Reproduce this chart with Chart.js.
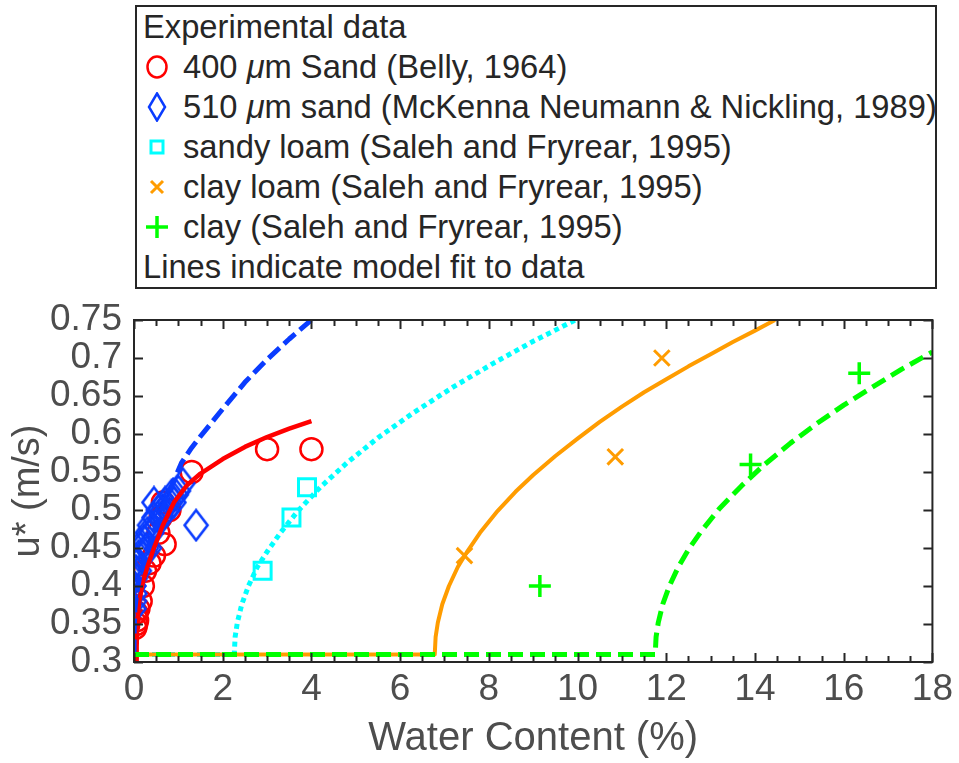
<!DOCTYPE html>
<html>
<head>
<meta charset="utf-8">
<title>Threshold friction velocity vs water content</title>
<script src="https://cdn.jsdelivr.net/npm/chart.js@4.4.0/dist/chart.umd.min.js"></script>
<style>
  body { margin: 0; background: #fff; }
  #wrap { position: absolute; left: 0; top: 0; width: 959px; height: 763px; }
  #legend {
    position: absolute; left: 135px; top: 5px; width: 798px; height: 280px;
    border: 2px solid #262626; background: #fff;
    font-family: 'Liberation Sans', Arial, sans-serif; font-size: 32.7px; color: #262626;
  }
  .row { position: relative; height: 40px; line-height: 40px; white-space: nowrap; }
  .row svg { position: absolute; left: 7px; top: 5px; }
  .row span { position: absolute; left: 46px; top: 0; }
  .row.plain span { left: 6px; }
</style>
</head>
<body>
<div id="wrap"><canvas id="chart"></canvas></div>
<div id="legend"></div>
<script>
// --- data ---

// 400 um sand (Belly, 1964)
const bellyX = [0.03, 0.05, 0.07, 0.05, 0.1, 0.15, 0.2, 0.25, 0.35, 0.45, 0.55, 0.69, 0.6, 0.65, 0.8, 1.3, 3.0, 4.0];
const bellyY = [0.345, 0.35, 0.355, 0.365, 0.37, 0.38, 0.40, 0.42, 0.43, 0.44, 0.47, 0.455, 0.49, 0.51, 0.50, 0.55, 0.58, 0.58];

// 510 um sand (McKenna Neumann & Nickling, 1989)
const mckX = [0.0, 0.01, 0.0, 0.02, 0.03, 0.05, 0.02, 0.08, 0.1, 0.12, 0.15, 0.2, 0.22, 0.28, 0.3, 0.35, 0.4, 0.45, 0.5, 0.55, 0.6, 0.65, 0.7, 0.75, 0.8, 0.85, 0.9, 0.95, 1.0, 1.1, 0.45, 0.35, 1.4];
const mckY = [0.37, 0.38, 0.40, 0.39, 0.41, 0.42, 0.43, 0.43, 0.44, 0.42, 0.45, 0.44, 0.46, 0.45, 0.47, 0.48, 0.47, 0.49, 0.48, 0.50, 0.49, 0.50, 0.51, 0.50, 0.51, 0.52, 0.51, 0.52, 0.525, 0.535, 0.51, 0.45, 0.48];

// sandy loam, clay loam, clay (Saleh and Fryrear, 1995)
const sandyLoamX = [2.9, 3.55, 3.9];
const sandyLoamY = [0.42, 0.49, 0.53];
const clayLoamX = [7.45, 10.85, 11.9];
const clayLoamY = [0.44, 0.57, 0.70];
const clayX = [9.15, 13.9, 16.35];
const clayY = [0.40, 0.56, 0.68];

// model fits (lines)
const bellyFitX = [0, 0.055, 0.06, 0.07, 0.09, 0.12, 0.2, 0.3, 0.45, 0.65, 0.9, 1.2, 1.5, 2.0, 2.5, 3.0, 3.5, 4.0];
const bellyFitY = [0.29, 0.29, 0.32, 0.345, 0.365, 0.38, 0.405, 0.425, 0.45, 0.48, 0.51, 0.533, 0.548, 0.567, 0.583, 0.596, 0.607, 0.617];
const mckFitX = [0, 0.005, 0.02, 0.06, 0.12, 0.25, 0.4, 0.6, 0.8, 1.07, 1.3, 1.5, 2.0, 2.5, 3.0, 3.5, 4.0];
const mckFitY = [0.31, 0.34, 0.37, 0.39, 0.41, 0.44, 0.465, 0.495, 0.525, 0.562, 0.582, 0.597, 0.633, 0.668, 0.698, 0.725, 0.75];
const sandyLoamFitX = [0, 2.26, 2.28, 2.33, 2.43, 2.58, 2.78, 3.0, 3.3, 3.7, 4.2, 4.8, 5.5, 6.3, 7.2, 8.1, 9.0, 9.95];
const sandyLoamFitY = [0.31, 0.31, 0.333, 0.352, 0.376, 0.40, 0.425, 0.445, 0.47, 0.499, 0.53, 0.562, 0.595, 0.628, 0.662, 0.693, 0.722, 0.75];
const clayLoamFitX = [0, 6.78, 6.8, 6.85, 6.95, 7.1, 7.3, 7.52, 7.8, 8.2, 8.6, 9.0, 9.5, 10.0, 10.5, 11.0, 11.5, 12.0, 12.5, 13.0, 13.5, 14.0, 14.45];
const clayLoamFitY = [0.31, 0.31, 0.333, 0.352, 0.376, 0.40, 0.425, 0.446, 0.47, 0.499, 0.524, 0.546, 0.571, 0.594, 0.616, 0.636, 0.655, 0.672, 0.689, 0.705, 0.721, 0.736, 0.75];
const clayFitX = [0, 11.75, 11.77, 11.82, 11.92, 12.07, 12.27, 12.5, 12.8, 13.2, 13.7, 14.2, 14.8, 15.4, 16.0, 16.6, 17.3, 18];
const clayFitY = [0.31, 0.31, 0.333, 0.352, 0.376, 0.40, 0.425, 0.448, 0.473, 0.502, 0.532, 0.559, 0.588, 0.614, 0.638, 0.66, 0.685, 0.708];

// axes
const xTicks = [0, 2, 4, 6, 8, 10, 12, 14, 16, 18];
const xMinorTicks = Array.from({ length: 37 }, (_, i) => i * 0.5);
const yTicks = [0.3, 0.35, 0.4, 0.45, 0.5, 0.55, 0.6, 0.65, 0.7, 0.75];

const legendTitle = 'Experimental data';
const legendFoot = 'Lines indicate model fit to data';
const seriesNames = [
  '400 <i>&mu;</i>m Sand (Belly, 1964)',
  '510 <i>&mu;</i>m sand (McKenna Neumann &amp; Nickling, 1989)',
  'sandy loam (Saleh and Fryrear, 1995)',
  'clay loam (Saleh and Fryrear, 1995)',
  'clay (Saleh and Fryrear, 1995)'
];

const RED = '#ff0000';
const BLUE = '#0a3cff';
const CYAN = '#00ffff';
const ORANGE = '#ff9c00';
const GREEN = '#00ff00';
const AXIS = '#262626';
const FONT = "'Liberation Sans', Arial, sans-serif";

function pts(xs, ys) {
  return xs.map((v, i) => ({ x: v, y: ys[i] }));
}

// matlab style diamond, a bit taller than wide
function diamondImage() {
  const c = document.createElement('canvas');
  c.width = 28; c.height = 34;
  const g = c.getContext('2d');
  g.strokeStyle = BLUE;
  g.lineWidth = 2.6;
  g.beginPath();
  g.moveTo(14, 2); g.lineTo(25.5, 17); g.lineTo(14, 32); g.lineTo(2.5, 17);
  g.closePath();
  g.stroke();
  return c;
}

function marker(data, style, color, radius, order, extra) {
  return Object.assign({
    type: 'scatter', data: data, pointStyle: style, pointRadius: radius,
    pointBorderColor: color, pointBackgroundColor: 'rgba(0,0,0,0)',
    pointBorderWidth: 3, showLine: false, order: order
  }, extra || {});
}

function fitLine(data, color, width, dash, order) {
  return {
    type: 'line', data: data, borderColor: color, borderWidth: width,
    borderDash: dash, pointRadius: 0, tension: 0, fill: false, order: order,
    borderCapStyle: 'butt', borderJoinStyle: 'round'
  };
}

const datasets = [
  fitLine(pts(clayFitX, clayFitY), GREEN, 5, [15, 7], 1),
  fitLine(pts(clayLoamFitX, clayLoamFitY), ORANGE, 4, [], 2),
  fitLine(pts(sandyLoamFitX, sandyLoamFitY), CYAN, 5, [5, 4], 3),
  fitLine(pts(mckFitX, mckFitY), BLUE, 5, [15, 6], 4),
  fitLine(pts(bellyFitX, bellyFitY), RED, 4.5, [], 5),
  marker(pts(clayX, clayY), 'cross', GREEN, 11, 6, { pointBorderWidth: 3.5 }),
  marker(pts(clayLoamX, clayLoamY), 'crossRot', ORANGE, 11, 7),
  marker(pts(sandyLoamX, sandyLoamY), 'rect', CYAN, 12, 8),
  marker(pts(mckX, mckY), diamondImage(), BLUE, 14, 9),
  marker(pts(bellyX, bellyY), 'circle', RED, 11, 10, { pointBorderWidth: 2.5 })
];

// inward ticks + box, matlab look
const frameTicks = {
  id: 'frameTicks',
  afterDatasetsDraw(chart) {
    const { ctx, chartArea: a, scales: { x, y } } = chart;
    ctx.save();
    ctx.strokeStyle = AXIS;
    ctx.lineWidth = 2;
    ctx.beginPath();
    xMinorTicks.forEach(v => {
      const px = Math.round(x.getPixelForValue(v)) + 0.5;
      const len = xTicks.includes(v) ? 9 : 6;
      ctx.moveTo(px, a.bottom); ctx.lineTo(px, a.bottom - len);
      ctx.moveTo(px, a.top); ctx.lineTo(px, a.top + len);
    });
    yTicks.forEach(v => {
      const py = Math.round(y.getPixelForValue(v)) + 0.5;
      ctx.moveTo(a.left, py); ctx.lineTo(a.left + 9, py);
      ctx.moveTo(a.right, py); ctx.lineTo(a.right - 9, py);
    });
    ctx.stroke();
    ctx.strokeRect(a.left, a.top, a.right - a.left, a.bottom - a.top);
    ctx.restore();
  }
};

new Chart(document.getElementById('chart').getContext('2d'), {
  type: 'scatter',
  data: { datasets: datasets },
  options: {
    responsive: true,
    maintainAspectRatio: false,
    animation: false,
    devicePixelRatio: 1,
    layout: { padding: { top: 320, right: 21, left: 0, bottom: 0 } },
    plugins: { legend: { display: false }, tooltip: { enabled: false } },
    scales: {
      x: {
        type: 'linear', min: 0, max: 18,
        afterFit: s => { s.height = 101; },
        afterBuildTicks: s => { s.ticks = xTicks.map(v => ({ value: v })); },
        grid: { display: false, drawTicks: false },
        border: { display: false },
        ticks: { color: '#4d4d4d', padding: 6, autoSkip: false, font: { family: FONT, size: 37 }, maxRotation: 0, callback: v => String(v) },
        title: { display: true, text: 'Water Content (%)', color: '#4d4d4d', padding: 0, font: { family: FONT, size: 40 } }
      },
      y: {
        type: 'linear', min: 0.3, max: 0.75,
        afterFit: s => { s.width = 134; },
        afterBuildTicks: s => { s.ticks = yTicks.map(v => ({ value: v })); },
        grid: { display: false, drawTicks: false },
        border: { display: false },
        ticks: { color: '#4d4d4d', padding: 12, autoSkip: false, font: { family: FONT, size: 37 }, callback: v => String(+v.toFixed(2)) },
        title: { display: true, text: 'u* (m/s)', color: '#4d4d4d', padding: { top: 6, bottom: 0 }, font: { family: FONT, size: 38 } }
      }
    }
  },
  plugins: [frameTicks]
});

// legend box, drawn as html
const legendSymbols = [
  `<svg width="26" height="30"><ellipse cx="13" cy="15" rx="9.5" ry="10.5" fill="none" stroke="${RED}" stroke-width="2.5"/></svg>`,
  `<svg width="26" height="30"><polygon points="13,1.5 21,15 13,28.5 5,15" fill="none" stroke="${BLUE}" stroke-width="2.5"/></svg>`,
  `<svg width="26" height="30"><rect x="7" y="9" width="12" height="12" fill="none" stroke="${CYAN}" stroke-width="3"/></svg>`,
  `<svg width="26" height="30"><path d="M7,9 L19,21 M19,9 L7,21" stroke="${ORANGE}" stroke-width="3"/></svg>`,
  `<svg width="26" height="30"><path d="M13,4 L13,26 M2,15 L24,15" stroke="${GREEN}" stroke-width="3.5"/></svg>`
];

let html = `<div class="row plain"><span>${legendTitle}</span></div>`;
seriesNames.forEach((name, i) => {
  html += `<div class="row">${legendSymbols[i]}<span>${name}</span></div>`;
});
html += `<div class="row plain"><span>${legendFoot}</span></div>`;
document.getElementById('legend').innerHTML = html;
</script>
</body>
</html>
